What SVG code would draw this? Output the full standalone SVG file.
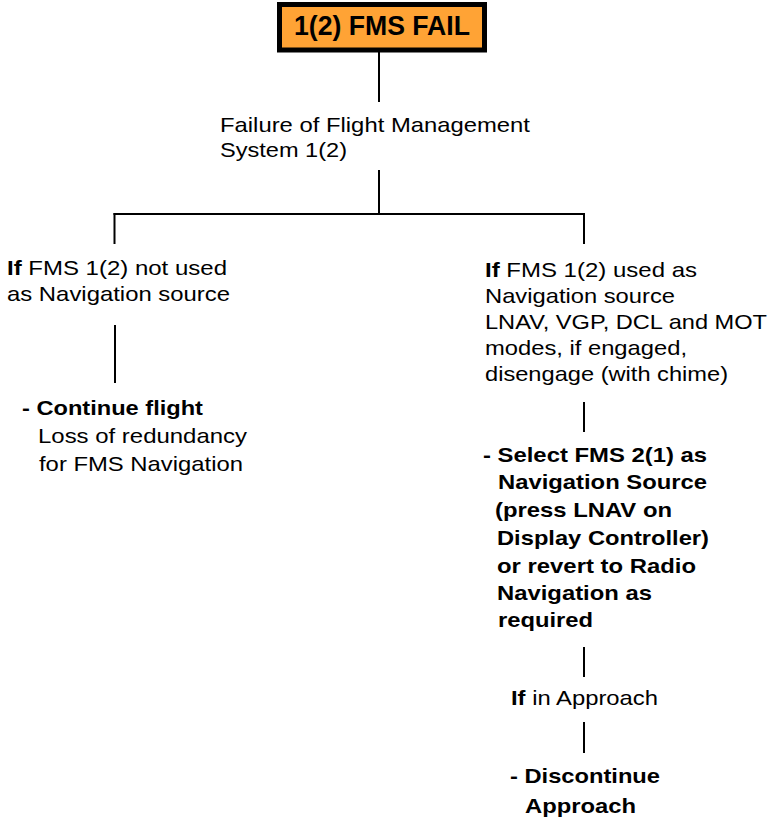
<svg xmlns="http://www.w3.org/2000/svg" width="774" height="823" viewBox="0 0 774 823">
<style>
text{font-family:"Liberation Sans",Arial,sans-serif;font-size:21px;fill:#000}
.b{font-weight:bold}
.conn line{stroke:#000;stroke-width:2;fill:none}
</style>
<rect x="0" y="0" width="774" height="823" fill="#fff"/>
<g id="title">
<rect x="279.5" y="4.5" width="205" height="45.5" fill="#FFA335" stroke="#000" stroke-width="5"/>
<text class="b" x="294" y="35" style="font-size:27px" textLength="176" lengthAdjust="spacingAndGlyphs">1(2) FMS FAIL</text>
</g>
<g id="failure">
<text x="220" y="132" textLength="310" lengthAdjust="spacingAndGlyphs">Failure of Flight Management</text>
<text x="220" y="157" textLength="127" lengthAdjust="spacingAndGlyphs">System 1(2)</text>
</g>
<g id="not-used">
<text x="7" y="275" textLength="220" lengthAdjust="spacingAndGlyphs"><tspan class="b">If</tspan> FMS 1(2) not used</text>
<text x="7" y="301" textLength="223" lengthAdjust="spacingAndGlyphs">as Navigation source</text>
</g>
<g id="continue">
<text class="b" x="22" y="415" textLength="181" lengthAdjust="spacingAndGlyphs">- Continue flight</text>
<text x="38" y="443" textLength="209" lengthAdjust="spacingAndGlyphs">Loss of redundancy</text>
<text x="39" y="471" textLength="204" lengthAdjust="spacingAndGlyphs">for FMS Navigation</text>
</g>
<g id="used">
<text x="485" y="277" textLength="212" lengthAdjust="spacingAndGlyphs"><tspan class="b">If</tspan> FMS 1(2) used as</text>
<text x="485" y="303" textLength="190" lengthAdjust="spacingAndGlyphs">Navigation source</text>
<text x="485" y="329" textLength="282" lengthAdjust="spacingAndGlyphs">LNAV, VGP, DCL and MOT</text>
<text x="485" y="355" textLength="202" lengthAdjust="spacingAndGlyphs">modes, if engaged,</text>
<text x="485" y="381" textLength="243" lengthAdjust="spacingAndGlyphs">disengage (with chime)</text>
</g>
<g id="select">
<text class="b" x="483" y="462" textLength="224" lengthAdjust="spacingAndGlyphs">- Select FMS 2(1) as</text>
<text class="b" x="498" y="489" textLength="209" lengthAdjust="spacingAndGlyphs">Navigation Source</text>
<text class="b" x="495" y="517" textLength="177" lengthAdjust="spacingAndGlyphs">(press LNAV on</text>
<text class="b" x="497" y="545" textLength="212" lengthAdjust="spacingAndGlyphs">Display Controller)</text>
<text class="b" x="497" y="573" textLength="199" lengthAdjust="spacingAndGlyphs">or revert to Radio</text>
<text class="b" x="497" y="600" textLength="155" lengthAdjust="spacingAndGlyphs">Navigation as</text>
<text class="b" x="498" y="627" textLength="95" lengthAdjust="spacingAndGlyphs">required</text>
</g>
<g id="approach">
<text x="511" y="705" textLength="147" lengthAdjust="spacingAndGlyphs"><tspan class="b">If</tspan> in Approach</text>
</g>
<g id="discontinue">
<text class="b" x="510" y="783" textLength="150" lengthAdjust="spacingAndGlyphs">- Discontinue</text>
<text class="b" x="525" y="813" textLength="111" lengthAdjust="spacingAndGlyphs">Approach</text>
</g>
<g id="connectors" class="conn">
<line x1="379" y1="52" x2="379" y2="102"/>
<line x1="379" y1="170" x2="379" y2="214"/>
<line x1="113.5" y1="214" x2="585" y2="214"/>
<line x1="114.5" y1="213" x2="114.5" y2="244"/>
<line x1="584" y1="213" x2="584" y2="244"/>
<line x1="115" y1="325" x2="115" y2="383"/>
<line x1="584" y1="402" x2="584" y2="432"/>
<line x1="584" y1="647" x2="584" y2="677"/>
<line x1="584" y1="722" x2="584" y2="753"/>
</g>
</svg>
